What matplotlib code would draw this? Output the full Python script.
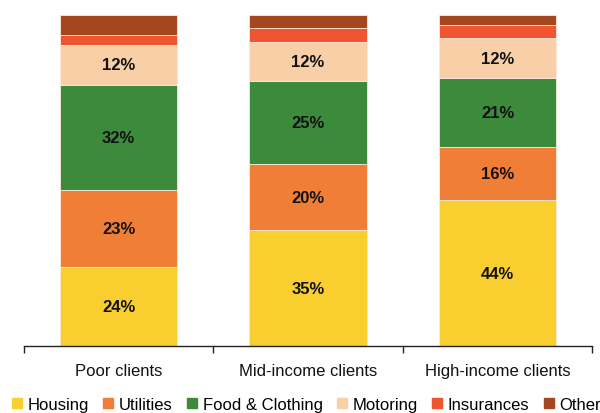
import matplotlib.pyplot as plt
import numpy as np
from matplotlib.lines import Line2D

plt.rcParams['font.family'] = ['Liberation Sans', 'DejaVu Sans']

clients = ["Poor clients", "Mid-income clients", "High-income clients"]
segments = ["Housing", "Utilities", "Food & Clothing", "Motoring", "Insurances", "Other"]
housing = [24, 35, 44]
utilities = [23, 20, 16]
food_clothing = [32, 25, 21]
motoring = [12, 12, 12]
insurances = [3, 4, 4]
other = [6, 4, 3]
colors = ["#F9CE2F", "#F07E36", "#3C8A3B", "#F8CFA7", "#EF5530", "#A5471E"]
labelled = ["Housing", "Utilities", "Food & Clothing", "Motoring"]

values = [housing, utilities, food_clothing, motoring, insurances, other]

fig = plt.figure(figsize=(6, 4.14), dpi=100)
ax = fig.add_axes([0.04, 0.162, 0.947, 0.799])

x = np.arange(len(clients))
bottom = np.zeros(len(clients))
for name, vals, col in zip(segments, values, colors):
    vals = np.array(vals, dtype=float)
    ax.bar(x, vals, 0.62, bottom=bottom, color=col, edgecolor="#FBE9DC",
           linewidth=0.6, label=name)
    if name in labelled:
        for xi, b, v in zip(x, bottom, vals):
            ax.text(xi, b + v / 2, f"{v:.0f}%", ha="center", va="center",
                    fontsize=12, fontweight="bold", color="#111111")
    bottom += vals

ax.set_xlim(-0.5, 2.5)
ax.set_ylim(0, 100)
for s in ["top", "right", "left"]:
    ax.spines[s].set_visible(False)
ax.spines["bottom"].set_color("#222222")
ax.spines["bottom"].set_linewidth(1.0)
ax.set_yticks([])
ax.set_xticks([-0.5, 0.5, 1.5, 2.5])
ax.set_xticklabels([])
ax.tick_params(axis="x", which="major", length=5, width=1, color="#222222")
ax.set_xticks(x, minor=True)
ax.set_xticklabels(clients, minor=True, fontsize=12, color="#111111")
ax.tick_params(axis="x", which="minor", length=0, pad=12)

handles = [Line2D([], [], marker="s", linestyle="none", markersize=7.5,
                  markerfacecolor=c, markeredgecolor=c) for c in colors]
fig.legend(handles, segments, loc="lower left", ncol=6, frameon=False,
           fontsize=12, bbox_to_anchor=(0.018, 0.003), borderpad=0,
           borderaxespad=0, handletextpad=0.3, columnspacing=0.8,
           handlelength=0.7)

fig.savefig("out.png", dpi=100)
